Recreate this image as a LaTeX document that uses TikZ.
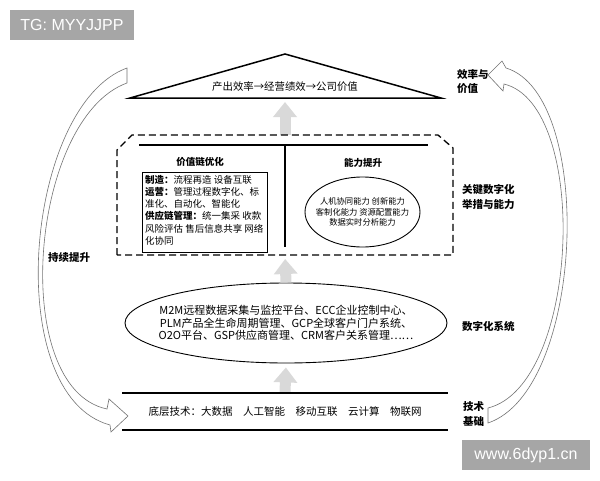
\documentclass[tikz,border=0pt]{standalone}
\usepackage{fontspec}
\setmainfont{Noto Sans CJK SC}
\newfontfamily\wmfont{Liberation Sans}
\usetikzlibrary{shapes.geometric,arrows.meta,positioning}

\begin{document}
\begin{tikzpicture}[
    x=1pt, y=1pt,
    title/.style={font=\fontsize{9.5}{12}\selectfont\bfseries},
    sidelabel/.style={font=\fontsize{10.5}{14.5}\selectfont\bfseries, align=left, anchor=west, inner sep=0pt},
    body/.style={font=\fontsize{9.5}{12.2}\selectfont, align=left, inner sep=0pt},
    lift/.style={line width=11pt, draw=black!15, -{Triangle[width=23pt,length=15pt]}, shorten >=4pt},
    hollow/.style={draw=black!55, line width=0.6pt, fill=white},
    keybox/.style={dash pattern=on 7pt off 4pt, line width=1.3pt},
    barline/.style={line width=2pt},
    watermark/.style={fill=black!35, text=white, font=\wmfont\fontsize{16}{16}\selectfont, inner sep=0pt, minimum height=30pt}
    ]

\useasboundingbox (0,0) rectangle (600,-480);

\coordinate (base) at (285,-98);
\coordinate (keytop) at (285,-135);
\coordinate (keybot) at (285,-255);
\coordinate (bartop) at (285,-393);

\node[ellipse, draw, line width=0.9pt, minimum width=322pt, minimum height=80pt] (sys) at (286,-323) {};
\node[ellipse, draw, line width=0.9pt, minimum width=115pt, minimum height=70pt] (ability) at (362.5,-212) {};

\draw[lift] (bartop) -- (sys.south);
\draw[lift] (sys.north) -- (keybot);
\draw[lift] (keytop) -- (base);

\draw[line width=1.5pt] (130,-98) -- (285,-54) -- (441,-98) -- cycle;
\node[font=\fontsize{10.4}{12}\selectfont] (output) at (285,-87) {产出效率→经营绩效→公司价值};

\draw[keybox] (117,-255) -- (117,-150) -- (132,-135) -- (438,-135) -- (453,-148) -- (453,-255) -- cycle;
\draw[line width=1.2pt] (139,-145) -- (428,-145);
\draw[line width=1.2pt] (285,-145) -- (285,-247);

\node[title] (chain) at (200,-162) {价值链优化};
\node[title] (lift) at (363,-163) {能力提升};

\node[draw, line width=0.9pt, minimum width=125pt, minimum height=80pt] (chainbox) at (204.5,-212) {};
\node[body, anchor=north west] (chaintext) at (145,-175) {\textbf{制造：}流程再造 设备互联\\
\textbf{运营：}管理过程数字化、标\\
准化、自动化、智能化\\
\textbf{供应链管理：}统一集采 收款\\
风险评估 售后信息共享 网络\\
化协同};

\node[font=\fontsize{8.3}{10.6}\selectfont, align=center] (abilitytext) at (ability) {人机协同能力 创新能力\\
客制化能力 资源配置能力\\
数据实时分析能力};

\node[font=\fontsize{11}{12.8}\selectfont, align=center] (systext) at (sys) {M2M远程数据采集与监控平台、ECC企业控制中心、\\
PLM产品全生命周期管理、GCP全球客户门户系统、\\
O2O平台、GSP供应商管理、CRM客户关系管理……};

\draw[barline] (122,-393) -- (448,-393);
\draw[barline] (122,-430) -- (448,-430);
\node[font=\fontsize{10.5}{12}\selectfont] (tech) at (285,-412) {底层技术：大数据\quad 人工智能\quad 移动互联\quad 云计算\quad 物联网};

\draw[hollow] (127,-68) .. controls (25,-105) and (0,-395) .. (110,-425)
    -- (111,-432) -- (128,-416) -- (109,-399) -- (107,-409)
    .. controls (8,-388) and (30,-118) .. (127,-83) -- cycle;
\draw[hollow] (488,-423) .. controls (585,-390) and (595,-95) .. (506,-68)
    -- (502,-61) -- (488,-75) -- (503,-91) -- (504,-84)
    .. controls (590,-105) and (580,-385) .. (488,-408) -- cycle;

\node[sidelabel] (value) at (457,-81.5) {效率与\\价值};
\node[sidelabel] (key) at (462,-197) {关键数字化\\举措与能力};
\node[sidelabel] (system) at (462,-326) {数字化系统};
\node[sidelabel] (basis) at (463,-414) {技术\\基础};
\node[sidelabel] (keepup) at (48,-258) {持续提升};

\node[watermark, minimum width=124pt] (tg) at (72,-25) {TG: MYYJJPP};
\node[watermark, minimum width=128pt] (site) at (526,-455) {www.6dyp1.cn};
\end{tikzpicture}
\end{document}
